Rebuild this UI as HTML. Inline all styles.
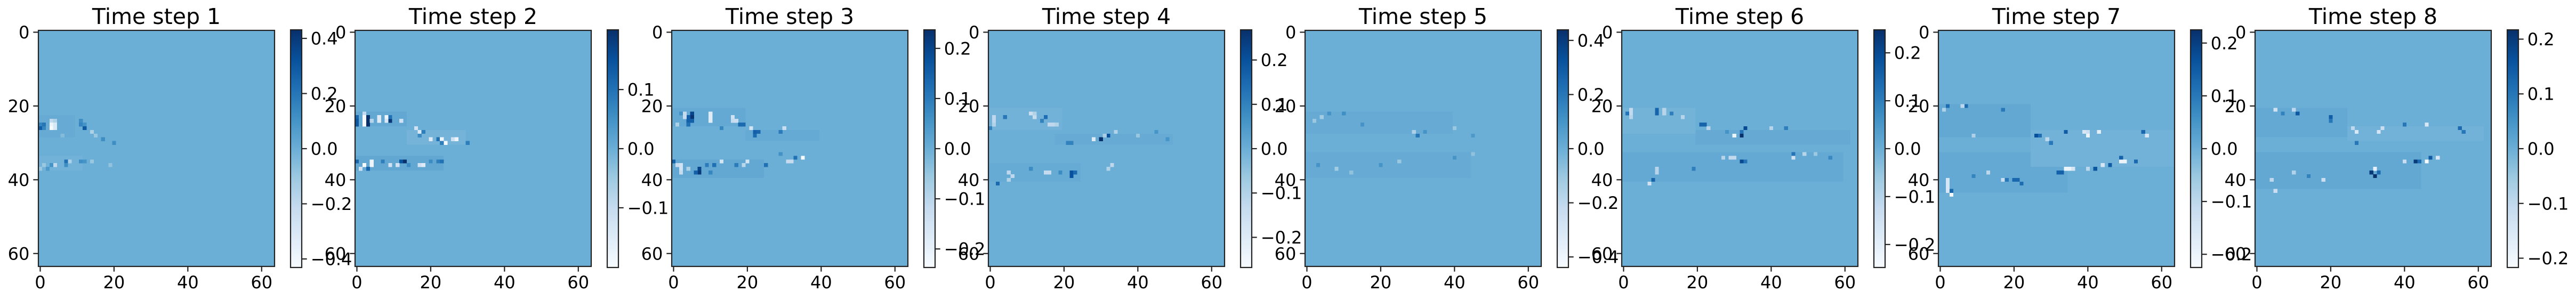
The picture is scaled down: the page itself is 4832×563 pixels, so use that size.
<!DOCTYPE html>
<html><head><meta charset="utf-8">
<style>
html,body{margin:0;padding:0;background:#fff;}
svg{display:block;font-family:"DejaVu Sans","Liberation Sans",sans-serif;}
</style></head>
<body>
<svg id="fig" width="4832" height="563" viewBox="0 0 4832 563" xmlns="http://www.w3.org/2000/svg">
<defs>
<linearGradient id="blues" x1="0" y1="1" x2="0" y2="0">
<stop offset="0" stop-color="#f7fbff"/><stop offset="0.125" stop-color="#deebf7"/><stop offset="0.25" stop-color="#c6dbef"/><stop offset="0.375" stop-color="#9ecae1"/><stop offset="0.5" stop-color="#6baed6"/><stop offset="0.625" stop-color="#4292c6"/><stop offset="0.75" stop-color="#2171b5"/><stop offset="0.875" stop-color="#08519c"/><stop offset="1" stop-color="#08306b"/>
</linearGradient>
</defs>
</svg>
<script>
// ---- data ----
const panelTitles = ["Time step 1","Time step 2","Time step 3","Time step 4","Time step 5","Time step 6","Time step 7","Time step 8"];
const colorLimits = [0.431, 0.201, 0.237, 0.268, 0.439, 0.248, 0.225, 0.217];
const cbTicks = [
  [-0.4,-0.2,0,0.2,0.4],[-0.1,0,0.1],[-0.2,-0.1,0,0.1,0.2],[-0.2,-0.1,0,0.1,0.2],
  [-0.4,-0.2,0,0.2,0.4],[-0.2,-0.1,0,0.1,0.2],[-0.2,-0.1,0,0.1,0.2],[-0.2,-0.1,0,0.1,0.2]];
const cbTickLabels = [
  ["−0.4","−0.2","0.0","0.2","0.4"],["−0.1","0.0","0.1"],["−0.2","−0.1","0.0","0.1","0.2"],["−0.2","−0.1","0.0","0.1","0.2"],
  ["−0.4","−0.2","0.0","0.2","0.4"],["−0.2","−0.1","0.0","0.1","0.2"],["−0.2","−0.1","0.0","0.1","0.2"],["−0.2","−0.1","0.0","0.1","0.2"]];
const axisTicks = [0,20,40,60];
// regions: [rowStart,rowEnd,colStart,colEnd,value]
const bandsP1 = [[23,29,0,10,0.01],[34,38,0,12,-0.015]];
const bandsP2 = [[22,26,0,14,0.01],[27,31,14,30,-0.01],[34,38,0,24,0.012]];
const bandsP3 = [[21,26,0,20,0.01],[27,30,20,40,0.008],[35,40,0,25,0.012]];
const bandsP4 = [[21,27,0,20,-0.01],[28,31,18,50,0.006],[36,41,0,25,0.008]];
const bandsP5 = [[22,28,0,40,0.01],[33,40,0,45,0.01]];
const bandsP6 = [[21,28,0,20,-0.01],[27,31,20,62,0.008],[33,41,0,60,0.01]];
const bandsP7 = [[20,29,0,25,0.012],[33,44,0,35,0.01],[27,37,25,64,-0.008]];
const bandsP8 = [[21,29,0,25,0.01],[26,30,25,62,-0.008],[33,43,0,45,0.012]];
// cells: [row,col,value]
const cellsP1 = [[24,3,-0.2],[24,4,-0.15],[25,0,0.15],[25,1,0.2],[25,3,-0.38],[25,4,-0.3],[26,0,0.28],[26,1,0.15],[26,3,-0.43],[26,4,-0.3],
  [24,11,0.12],[25,11,0.15],[25,12,0.1],[26,12,0.3],[27,14,-0.15],[28,15,-0.1],[29,17,0.12],[30,20,0.12],[28,6,-0.05],
  [35,7,0.22],[35,8,-0.15],[35,11,0.12],[35,12,0.1],[35,14,-0.1],[36,4,-0.2],[36,1,-0.1],[36,7,0.12],[36,3,0.1],[37,0,-0.1],[37,2,0.08],[36,19,-0.08]];
const cellsP2 = [[22,2,-0.1],[23,0,0.12],[24,0,0.14],[25,0,0.14],[23,2,-0.2],[24,2,-0.2],[25,2,-0.2],[23,3,0.2],[24,3,0.2],[25,3,0.2],[24,4,-0.08],
  [23,6,-0.15],[24,6,-0.15],[23,8,-0.18],[24,8,-0.14],[24,9,0.19],[23,9,0.1],[24,12,-0.12],[26,16,-0.12],[27,17,-0.14],[27,18,0.08],[28,17,0.06],
  [29,20,-0.15],[29,22,0.1],[29,23,-0.18],[30,24,-0.2],[29,26,-0.12],[29,27,-0.18],[30,23,0.08],[30,30,0.08],
  [35,0,0.12],[35,4,-0.18],[36,4,-0.18],[36,2,-0.2],[37,1,-0.12],[37,3,0.12],[35,12,0.15],[35,13,0.2],[36,11,-0.12],[36,9,-0.12],[35,7,0.08],
  [36,17,-0.12],[36,18,-0.15],[35,22,0.08],[35,23,0.1],[35,20,0.06],[36,14,0.06]];
const cellsP3 = [[22,5,0.2],[23,5,0.23],[24,5,0.15],[23,4,0.15],[24,4,0.15],[25,4,0.12],[22,3,-0.12],[23,3,-0.12],[22,10,-0.18],[23,10,-0.18],[24,10,-0.18],
  [23,16,-0.14],[24,16,-0.12],[24,17,-0.13],[25,18,0.13],[25,19,0.13],[26,21,-0.15],[27,22,0.15],[27,23,0.14],[28,22,0.13],[26,30,-0.13],[27,29,0.1],
  [22,2,0.06],[25,1,-0.08],[26,13,0.08],
  [34,35,-0.237],[34,33,0.12],[35,31,-0.12],[35,32,-0.12],[33,29,0.06],
  [35,0,0.15],[36,1,-0.12],[36,2,-0.14],[37,2,-0.14],[38,2,-0.12],[37,7,0.2],[38,7,0.22],[38,6,0.15],[36,11,0.12],[35,13,-0.15],[36,9,0.1],
  [35,20,-0.15],[36,25,0.12],[36,19,-0.1],[36,17,0.1],[37,4,-0.08],[38,10,0.08]];
const cellsP4 = [[23,1,-0.12],[24,1,-0.12],[25,1,-0.1],[26,0,0.1],[23,4,0.12],[22,11,-0.15],[23,12,-0.14],[22,12,-0.1],[23,15,0.14],[24,14,0.1],
  [25,16,-0.12],[25,17,-0.12],[25,18,-0.1],[29,30,0.268],[28,32,0.2],[29,28,-0.2],[27,34,-0.1],[28,31,-0.08],[30,21,0.1],[30,22,0.1],
  [27,45,0.06],[28,40,-0.06],[29,48,0.06],
  [38,22,0.2],[39,22,0.2],[38,23,0.15],[38,15,-0.13],[38,16,-0.13],[38,5,-0.12],[39,6,-0.12],[40,5,-0.1],[41,2,0.15],[36,33,-0.12],[37,32,-0.1],
  [37,11,0.08],[38,19,0.08]];
const cellsP5 = [[22,10,0.12],[23,4,-0.12],[22,6,0.1],[24,2,-0.1],[25,15,0.1],[27,29,-0.15],[28,30,0.2],[27,32,0.1],[26,40,-0.1],[28,45,0.08],
  [35,25,-0.1],[36,20,0.1],[37,8,-0.12],[36,3,0.1],[38,12,-0.08],[34,40,0.1],[33,45,-0.08]];
const cellsP6 = [[21,2,-0.12],[22,2,-0.12],[23,2,-0.1],[22,1,0.12],[21,9,0.15],[22,9,0.15],[21,11,-0.1],[22,11,-0.1],[22,13,0.1],[23,16,-0.1],
  [25,21,0.15],[25,22,0.15],[26,23,-0.1],[26,33,0.2],[27,32,0.12],[28,30,-0.22],[28,32,0.248],[26,40,-0.1],[26,44,0.1],[27,28,0.06],
  [33,46,0.12],[34,46,-0.15],[33,49,-0.1],[35,32,0.2],[35,33,0.12],[34,29,-0.12],[34,30,-0.12],[34,27,-0.1],[37,19,0.1],[40,8,0.15],[41,7,-0.15],
  [37,9,-0.1],[38,9,-0.1],[34,56,0.08],[33,52,-0.06]];
const cellsP7 = [[20,2,0.12],[20,7,0.12],[20,6,-0.1],[21,1,-0.08],[21,17,0.1],[27,34,0.15],[27,39,-0.15],[27,40,-0.13],[28,40,-0.2],[27,43,-0.18],
  [28,26,0.17],[28,27,0.12],[27,55,0.13],[28,56,-0.15],[29,29,-0.1],[30,30,0.1],[28,9,-0.08],
  [34,49,0.14],[35,53,0.13],[35,49,-0.2],[35,50,-0.2],[36,46,0.15],[36,44,-0.15],[37,42,0.16],[37,34,-0.2],[37,35,-0.2],[37,36,-0.15],
  [38,32,0.14],[38,33,0.14],[37,40,-0.1],[40,2,-0.15],[41,2,-0.15],[42,2,-0.15],[43,2,-0.15],[44,3,-0.22],[43,3,0.13],
  [40,20,0.13],[40,21,0.13],[41,22,0.12],[38,13,-0.1],[40,17,-0.12],[40,18,0.1],[39,9,0.08]];
const cellsP8 = [[21,5,-0.13],[22,11,0.15],[21,10,-0.1],[22,7,0.08],[23,20,0.14],[24,20,0.1],[27,27,-0.15],[26,26,-0.1],[26,34,-0.12],[27,33,-0.14],
  [25,40,0.1],[25,46,-0.15],[26,55,0.12],[27,56,0.1],[30,27,0.1],
  [34,47,0.15],[34,49,-0.15],[35,46,-0.217],[35,43,0.2],[35,44,0.12],[35,40,-0.12],[37,32,-0.18],[38,31,0.2],[39,32,0.217],[38,33,0.12],
  [40,18,-0.12],[40,4,-0.1],[43,5,-0.12],[39,14,0.08],[38,10,-0.08]];
const panelCells = [cellsP1,cellsP2,cellsP3,cellsP4,cellsP5,cellsP6,cellsP7,cellsP8];
const panelBands = [bandsP1,bandsP2,bandsP3,bandsP4,bandsP5,bandsP6,bandsP7,bandsP8];

// ---- rendering ----
const NS = "http://www.w3.org/2000/svg";
const svg = document.getElementById('fig');
const stops = [[0,[247,251,255]],[0.125,[222,235,247]],[0.25,[198,219,239]],[0.375,[158,202,225]],[0.5,[107,174,214]],[0.625,[66,146,198]],[0.75,[33,113,181]],[0.875,[8,81,156]],[1,[8,48,107]]];
function blues(t){
  t=Math.max(0,Math.min(1,t));
  for(let i=1;i<stops.length;i++){
    if(t<=stops[i][0]){
      const a=stops[i-1],b=stops[i],f=(t-a[0])/(b[0]-a[0]);
      const c=a[1].map((v,k)=>Math.round(v+(b[1][k]-v)*f));
      return `rgb(${c[0]},${c[1]},${c[2]})`;
    }
  }
  return 'rgb(8,48,107)';
}
function mk(tag, attrs, parent){
  const e=document.createElementNS(NS,tag);
  for(const k in attrs) e.setAttribute(k,attrs[k]);
  (parent||svg).appendChild(e); return e;
}
const AX_L0=72, PANEL_DX=594, AX_T=57, AX_S=443, N=64, CELL=AX_S/N;
const CB_DX=473, CB_W=21, CB_T=56, CB_B=502;
const TICK=9.7, LW=2.2, TFS=32, TITLE_FS=41;

panelTitles.forEach((title,p)=>{
  const L=AX_L0+PANEL_DX*p;
  const vmax=colorLimits[p], vmin=-vmax;
  const col = v => blues((v-vmin)/(vmax-vmin));
  const xs = c => L + c*CELL;
  const ys = r => AX_T + r*CELL;
  const g = mk('g',{});
  
  
  const bg = mk('rect',{x:L,y:AX_T,width:AX_S,height:AX_S,fill:col(0)},g);
  
  
  panelBands[p].forEach(b=>{
    const r=mk('rect',{x:xs(b[2]),y:ys(b[0]),width:(b[3]-b[2])*CELL,height:(b[1]-b[0])*CELL,fill:col(b[4]),'shape-rendering':'crispEdges'},g);
    
    
  });
  panelCells[p].forEach(c=>{
    const r=mk('rect',{x:xs(c[1]),y:ys(c[0]),width:CELL+0.3,height:CELL+0.3,fill:col(c[2]),'shape-rendering':'crispEdges'},g);
    
    
  });
  const fr=mk('rect',{x:L,y:AX_T,width:AX_S,height:AX_S,fill:'none',stroke:'#222','stroke-width':LW},g);
  
  
  axisTicks.forEach(t=>{
    const cx=xs(t+0.5), cy=ys(t+0.5);
    mk('line',{x1:cx,y1:AX_T+AX_S,x2:cx,y2:AX_T+AX_S+TICK,stroke:'#222','stroke-width':LW},g);
    const xl=mk('text',{x:cx,y:541,'font-size':TFS,'text-anchor':'middle',fill:'#000'},g);
    xl.textContent=String(t);
    
    
    mk('line',{x1:L-TICK,y1:cy,x2:L,y2:cy,stroke:'#222','stroke-width':LW},g);
    const yl=mk('text',{x:L-TICK-7,y:cy+11.5,'font-size':TFS,'text-anchor':'end',fill:'#000'},g);
    yl.textContent=String(t);
    
    
  });
  const tt=mk('text',{x:L+AX_S/2,y:45,'font-size':TITLE_FS,'text-anchor':'middle',fill:'#000'},g);
  tt.textContent=title;
  
  
  const cbx=L+CB_DX;
  const cb=mk('rect',{x:cbx,y:CB_T,width:CB_W,height:CB_B-CB_T,fill:'url(#blues)',stroke:'#222','stroke-width':LW},g);
  
  
  const cy = v => CB_B - (v-vmin)/(vmax-vmin)*(CB_B-CB_T);
  cbTicks[p].forEach((v,i)=>{
    const y=cy(v);
    mk('line',{x1:cbx+CB_W,y1:y,x2:cbx+CB_W+TICK,y2:y,stroke:'#222','stroke-width':LW},g);
    const tl=mk('text',{x:cbx+CB_W+TICK+7,y:y+11.5,'font-size':TFS,fill:'#000'},g);
    tl.textContent=cbTickLabels[p][i];
    
    
  });
});
</script>
</body></html>
